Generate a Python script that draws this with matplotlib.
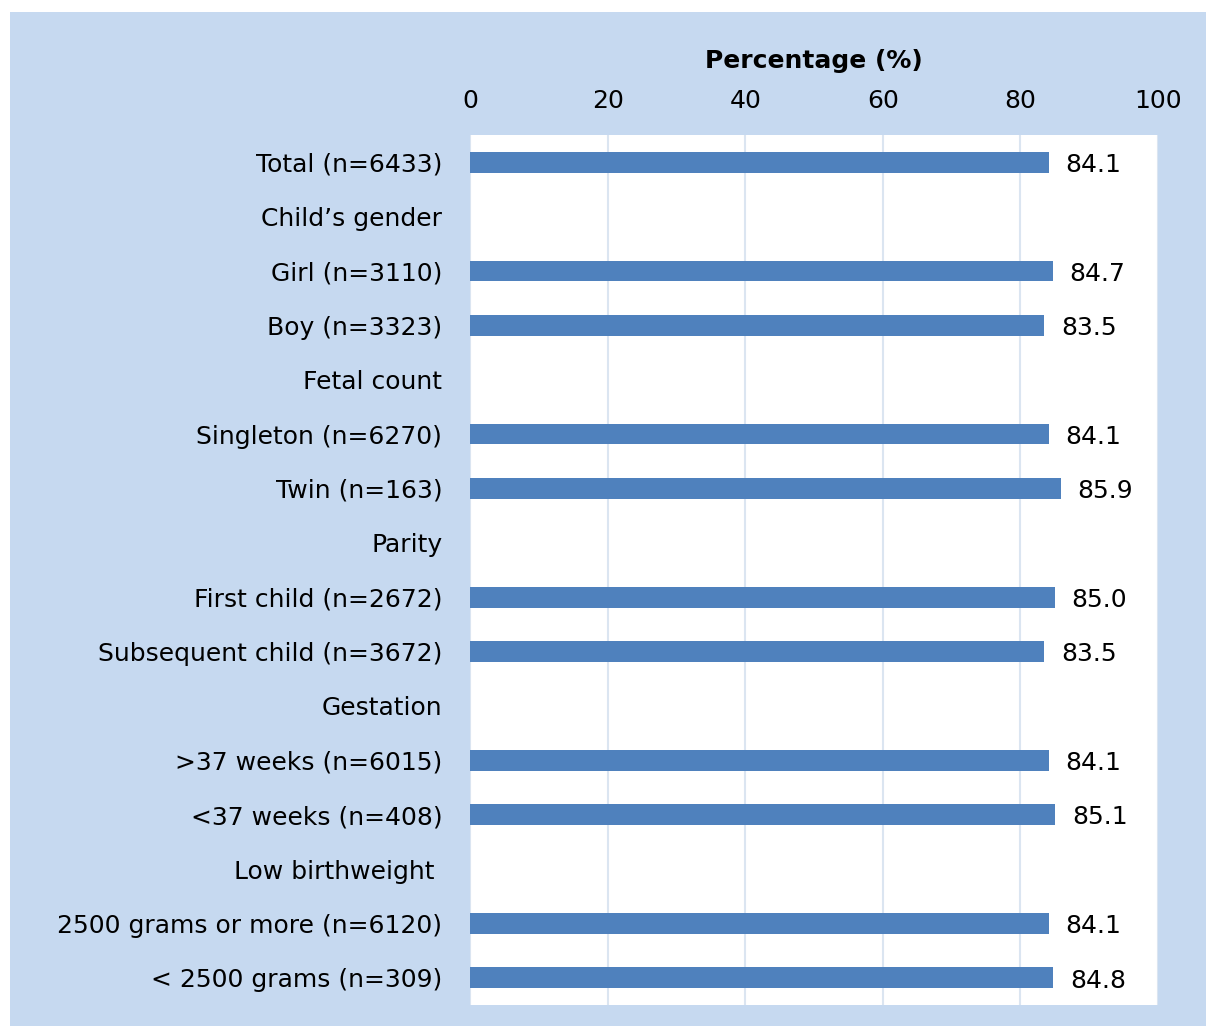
import matplotlib
matplotlib.use("Agg")
import matplotlib.pyplot as plt
from matplotlib.patches import Rectangle

labels = [
    "Total (n=6433)", "Child\u2019s gender", "Girl (n=3110)", "Boy (n=3323)",
    "Fetal count", "Singleton (n=6270)", "Twin (n=163)", "Parity",
    "First child (n=2672)", "Subsequent child (n=3672)", "Gestation",
    ">37 weeks (n=6015)", "<37 weeks (n=408)", "Low birthweight ",
    "2500 grams or more (n=6120)", "< 2500 grams (n=309)",
]
values = [84.1, None, 84.7, 83.5, None, 84.1, 85.9, None,
          85.0, 83.5, None, 84.1, 85.1, None, 84.1, 84.8]

BG = "#c6d9f0"
BAR = "#4f81bd"
FS = 18

fig = plt.figure(figsize=(12.06, 10.26), dpi=100, facecolor="white")
fig.patches.append(Rectangle((10 / 1206, 0), 1 - 10 / 1206, 1 - 12 / 1026,
                             transform=fig.transFigure, facecolor=BG,
                             edgecolor="none", zorder=-10))

ax = fig.add_axes([470 / 1206, 1 - 1005 / 1026, 688 / 1206, 870 / 1026])
ax.set_facecolor("white")

ypos = list(range(len(labels)))
for y, v in zip(ypos, values):
    if v is None:
        continue
    ax.barh(y, v, height=0.38, color=BAR, zorder=3)
    ax.text(v + 2.4, y + 0.05, f"{v:.1f}", va="center", ha="left",
            fontsize=FS, color="black")

ax.set_xlim(0, 100)
ax.set_ylim(len(labels) - 0.5, -0.5)
ax.set_xticks([0, 20, 40, 60, 80, 100])
ax.xaxis.tick_top()
ax.xaxis.set_label_position("top")
ax.set_xlabel("Percentage (%)", fontsize=FS, fontweight="bold", labelpad=15)
ax.tick_params(axis="x", length=0, labelsize=FS, pad=16)
ax.set_yticks(ypos)
ax.set_yticklabels(labels, fontsize=FS)
ax.tick_params(axis="y", length=0, pad=20)
ax.grid(axis="x", color="#dbe5f1", linewidth=1.5, zorder=0)
for s in ax.spines.values():
    s.set_visible(False)

fig.savefig("out.png", dpi=100, facecolor=fig.get_facecolor())
